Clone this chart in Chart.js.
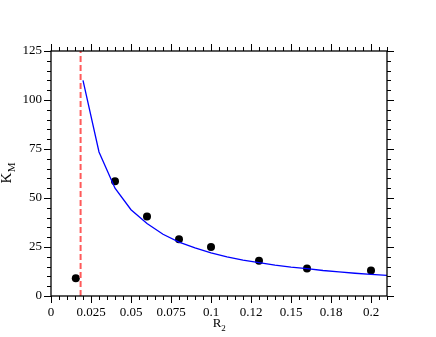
<!DOCTYPE html>
<html>
<head>
<meta charset="utf-8">
<script src="https://cdn.jsdelivr.net/npm/chart.js@4"></script>
<style>
  body { margin: 0; background: #fff; }
  #caixa { width: 436px; height: 337px; }
</style>
</head>
<body>
<div id="caixa"><canvas id="graficoKm" width="436" height="337"></canvas></div>
<script>
// Pontos medidos (círculos pretos)
const r2Medidos = [0.0155, 0.04, 0.06, 0.08, 0.1, 0.13, 0.16, 0.2];
const kmMedidos = [9, 58.5, 40.5, 29, 25, 18, 14, 13];

// Curva ajustada (linha azul)
const r2Ajuste = [0.02, 0.03, 0.04, 0.05, 0.06, 0.07, 0.08, 0.09, 0.1, 0.11, 0.12,
                  0.13, 0.14, 0.15, 0.16, 0.17, 0.18, 0.19, 0.2, 0.21];
const kmAjuste = [110, 73.5, 55, 44, 37, 31.5, 27.5, 24.5, 22, 20, 18.3,
                  17, 15.7, 14.7, 14, 13, 12.3, 11.6, 11, 10.5];

// Linha vertical tracejada (limite)
const r2Limite = [0.0185, 0.0185];
const kmLimite = [0, 125];

// Rótulos dos eixos
const rotulosX = ['0', '0.025', '0.05', '0.075', '0.1', '0.12', '0.15', '0.18', '0.2'];
const rotulosY = ['0', '25', '50', '75', '100', '125'];

const fonteSerif = 'Liberation Serif';

function juntarPontos(xs, ys) {
    return xs.map((x, i) => ({ x: x, y: ys[i] }));
}

// Plugin que desenha moldura, marcas (maiores e menores) e títulos com subscrito
const molduraPlugin = {
    id: 'moldura',
    afterDraw(chart) {
        const ctx = chart.ctx;
        const area = chart.chartArea;
        const sx = chart.scales.x;
        const sy = chart.scales.y;
        ctx.save();
        ctx.strokeStyle = '#000';
        ctx.lineWidth = 1.3;
        ctx.strokeRect(area.left, area.top, area.right - area.left, area.bottom - area.top);

        ctx.lineWidth = 1;
        ctx.beginPath();
        // marcas do eixo x (a cada 0.005, maiores a cada 0.025)
        for (let i = 0; i <= 42; i++) {
            const px = Math.round(sx.getPixelForValue(i * 0.005)) + 0.5;
            const tam = i % 5 === 0 ? 7 : 4;
            ctx.moveTo(px, area.bottom);
            ctx.lineTo(px, area.bottom + tam);
            ctx.moveTo(px, area.top);
            ctx.lineTo(px, area.top - tam);
        }
        // marcas do eixo y (a cada 5, maiores a cada 25)
        for (let i = 0; i <= 25; i++) {
            const py = Math.round(sy.getPixelForValue(i * 5)) + 0.5;
            const tam = i % 5 === 0 ? 7 : 4;
            ctx.moveTo(area.left, py);
            ctx.lineTo(area.left - tam, py);
            ctx.moveTo(area.right, py);
            ctx.lineTo(area.right + tam, py);
        }
        ctx.stroke();

        // título do eixo x: R com subscrito 2
        ctx.fillStyle = '#000';
        ctx.textBaseline = 'alphabetic';
        ctx.textAlign = 'left';
        ctx.font = '13px "' + fonteSerif + '"';
        const cx = (area.left + area.right) / 2;
        const larguraR = ctx.measureText('R').width;
        ctx.fillText('R', cx - larguraR / 2 - 2, 326.5);
        ctx.font = '9px "' + fonteSerif + '"';
        ctx.fillText('2', cx + larguraR / 2 - 2, 331);

        // título do eixo y: K com subscrito M (rotacionado)
        ctx.translate(11, 183.5);
        ctx.rotate(-Math.PI / 2);
        ctx.font = '15px "' + fonteSerif + '"';
        const larguraK = ctx.measureText('K').width;
        ctx.fillText('K', 0, 0);
        ctx.font = '11px "' + fonteSerif + '"';
        ctx.fillText('M', larguraK + 0.5, 4);
        ctx.restore();
    }
};

const ctxKm = document.getElementById('graficoKm').getContext('2d');

const graficoKm = new Chart(ctxKm, {
    type: 'scatter',
    data: {
        datasets: [
            {
                label: 'limite',
                data: juntarPontos(r2Limite, kmLimite),
                showLine: true,
                borderColor: 'rgba(255, 90, 90, 1)',
                borderWidth: 2,
                borderDash: [6, 3],
                pointRadius: 0
            },
            {
                label: 'ajuste',
                data: juntarPontos(r2Ajuste, kmAjuste),
                showLine: true,
                borderColor: '#0000ff',
                borderWidth: 1.3,
                pointRadius: 0,
                tension: 0
            },
            {
                label: 'medidos',
                data: juntarPontos(r2Medidos, kmMedidos),
                showLine: false,
                backgroundColor: '#000',
                borderColor: '#000',
                pointRadius: 4,
                pointBorderWidth: 0
            }
        ]
    },
    options: {
        responsive: false,
        animation: false,
        layout: { padding: { top: 51, right: 49, left: 0, bottom: 0 } },
        plugins: {
            legend: { display: false },
            tooltip: { enabled: false }
        },
        scales: {
            x: {
                type: 'linear',
                min: 0,
                max: 0.21,
                grid: { display: false, drawTicks: false },
                border: { display: false },
                afterFit(escala) { escala.height = 41; },
                afterBuildTicks(escala) {
                    escala.ticks = rotulosX.map((t, i) => ({ value: i * 0.025 }));
                },
                ticks: {
                    padding: 9,
                    color: '#000',
                    maxRotation: 0,
                    font: { family: fonteSerif, size: 13 },
                    callback: function (valor, indice) { return rotulosX[indice]; }
                }
            },
            y: {
                type: 'linear',
                min: 0,
                max: 125,
                grid: { display: false, drawTicks: false },
                border: { display: false },
                afterFit(escala) { escala.width = 51; },
                afterBuildTicks(escala) {
                    escala.ticks = rotulosY.map((t, i) => ({ value: i * 25 }));
                },
                ticks: {
                    padding: 9,
                    color: '#000',
                    font: { family: fonteSerif, size: 13 },
                    callback: function (valor, indice) { return rotulosY[indice]; }
                }
            }
        }
    },
    plugins: [molduraPlugin]
});
</script>
</body>
</html>
